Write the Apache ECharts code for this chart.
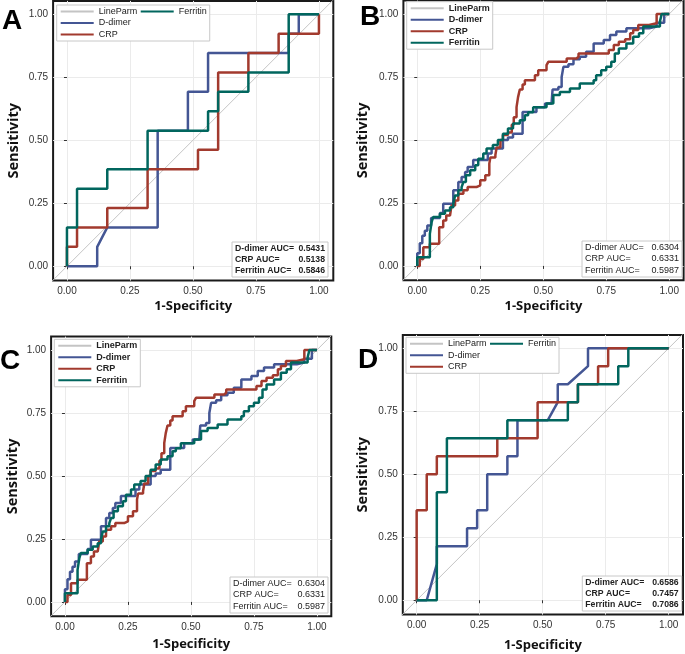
<!DOCTYPE html>
<html><head><meta charset="utf-8">
<script src="https://cdn.jsdelivr.net/npm/echarts@6/dist/echarts.min.js"></script>
<style>html,body{margin:0;padding:0;background:#fff}#c{width:685px;height:654px}</style>
</head><body><div id="c"></div><script>
// ---------- data ----------
const tickValues = [0, 0.25, 0.5, 0.75, 1];
const legendNames = ['LineParm', 'D-dimer', 'CRP', 'Ferritin'];
const panelLetters = ['A', 'B', 'C', 'D'];
const aucLabels = ['D-dimer AUC=', 'CRP AUC=', 'Ferritin AUC='];
const aucA = ['0.5431', '0.5138', '0.5846'];
const aucB = ['0.6304', '0.6331', '0.5987'];
const aucC = ['0.6304', '0.6331', '0.5987'];
const aucD = ['0.6586', '0.7457', '0.7086'];
const lineParm = [[-0.2, -0.2], [1.2, 1.2]];

// Panel A (vertices of the ROC path)
const aDdimer = [[0,0],[0.12,0],[0.12,0.077],[0.16,0.154],[0.36,0.154],[0.36,0.538],[0.48,0.538],[0.48,0.692],[0.56,0.692],[0.56,0.846],[0.88,0.846],[0.88,0.923],[0.92,0.923],[0.92,1],[1,1]];
const aCrp = [[0,0],[0,0.077],[0.04,0.077],[0.04,0.154],[0.16,0.154],[0.16,0.231],[0.32,0.231],[0.32,0.385],[0.52,0.385],[0.52,0.462],[0.6,0.462],[0.6,0.769],[0.72,0.769],[0.72,0.846],[0.84,0.846],[0.84,0.923],[1,0.923],[1,1]];
const aFerritin = [[0,0],[0,0.154],[0.04,0.154],[0.04,0.308],[0.16,0.308],[0.16,0.385],[0.32,0.385],[0.32,0.538],[0.56,0.538],[0.56,0.615],[0.6,0.615],[0.6,0.692],[0.72,0.692],[0.72,0.769],[0.88,0.769],[0.88,1],[1,1]];

// Panels B and C (ROC points, drawn as steps)
const bDdimer = [[0,0],[0,0.05],[0.01,0.09],[0.02,0.12],[0.03,0.14],[0.04,0.16],[0.055,0.19],[0.09,0.21],[0.103,0.247],[0.143,0.3],[0.163,0.333],[0.176,0.353],[0.19,0.373],[0.2,0.393],[0.222,0.42],[0.28,0.446],[0.295,0.466],[0.34,0.5],[0.36,0.51],[0.38,0.525],[0.418,0.611],[0.473,0.63],[0.507,0.645],[0.533,0.65],[0.537,0.7],[0.56,0.71],[0.573,0.75],[0.58,0.79],[0.6,0.8],[0.62,0.82],[0.645,0.83],[0.67,0.85],[0.7,0.883],[0.74,0.897],[0.765,0.916],[0.79,0.93],[0.83,0.943],[0.92,0.95],[0.95,0.965],[0.98,1],[1,1]];
const bCrp = [[0,0],[0.01,0],[0.01,0.028],[0.024,0.074],[0.05,0.088],[0.087,0.154],[0.103,0.18],[0.115,0.2],[0.13,0.207],[0.136,0.24],[0.15,0.26],[0.163,0.286],[0.183,0.3],[0.2,0.313],[0.235,0.32],[0.25,0.34],[0.27,0.36],[0.286,0.406],[0.29,0.43],[0.31,0.44],[0.315,0.47],[0.33,0.5],[0.34,0.52],[0.36,0.53],[0.375,0.56],[0.383,0.59],[0.394,0.63],[0.4,0.67],[0.407,0.7],[0.418,0.72],[0.427,0.737],[0.467,0.757],[0.48,0.777],[0.513,0.797],[0.52,0.81],[0.593,0.823],[0.632,0.83],[0.64,0.843],[0.76,0.857],[0.78,0.877],[0.8,0.89],[0.825,0.9],[0.845,0.923],[0.857,0.936],[0.877,0.956],[0.92,0.963],[0.95,1],[1,1]];
const bFerritin = [[0,0],[0,0.034],[0.05,0.127],[0.057,0.174],[0.063,0.194],[0.09,0.207],[0.11,0.22],[0.13,0.233],[0.143,0.247],[0.15,0.28],[0.163,0.3],[0.176,0.313],[0.183,0.333],[0.193,0.36],[0.21,0.38],[0.23,0.4],[0.242,0.425],[0.262,0.446],[0.275,0.466],[0.3,0.48],[0.32,0.5],[0.34,0.525],[0.36,0.545],[0.38,0.565],[0.407,0.578],[0.427,0.598],[0.44,0.61],[0.46,0.63],[0.513,0.645],[0.54,0.678],[0.566,0.69],[0.606,0.704],[0.645,0.724],[0.7,0.737],[0.71,0.757],[0.73,0.777],[0.75,0.79],[0.77,0.81],[0.784,0.843],[0.8,0.863],[0.83,0.883],[0.857,0.91],[0.88,0.923],[0.897,0.95],[0.963,0.97],[0.97,1],[1,1]];

// Panel D (vertices of the ROC path)
const dDdimer = [[0,0],[0.04,0],[0.08,0.143],[0.08,0.214],[0.2,0.214],[0.2,0.286],[0.24,0.286],[0.24,0.357],[0.28,0.357],[0.28,0.5],[0.36,0.5],[0.36,0.571],[0.4,0.571],[0.4,0.714],[0.52,0.714],[0.56,0.786],[0.56,0.857],[0.6,0.857],[0.68,0.929],[0.68,1],[1,1]];
const dCrp = [[0,0],[0,0.357],[0.04,0.357],[0.04,0.5],[0.08,0.5],[0.08,0.571],[0.32,0.571],[0.32,0.643],[0.48,0.643],[0.48,0.786],[0.64,0.786],[0.64,0.857],[0.72,0.857],[0.72,0.929],[0.76,0.929],[0.76,1],[1,1]];
const dFerritin = [[0,0],[0.08,0],[0.08,0.429],[0.12,0.429],[0.12,0.643],[0.36,0.643],[0.36,0.714],[0.6,0.714],[0.6,0.786],[0.64,0.786],[0.64,0.857],[0.8,0.857],[0.8,0.929],[0.84,0.929],[0.84,1],[1,1]];

// ---------- layout / style ----------
const COLORS = {'LineParm':'#c4c4c4','D-dimer':'#445694','CRP':'#A23A2E','Ferritin':'#01665E'};
const FONT = '"Liberation Sans", Arial, sans-serif';
const W = 280.2, H = 279.7;
const panels = [
  {left:53.1, top:0.9, curves:[aDdimer,aCrp,aFerritin], step:false, auc:aucA, aucBold:true, legBold:false,
   leg:[56.7,5,36], aucBox:[232,242,96,35], xGap:19, yGap:32, letter:[12,21]},
  {left:403.4, top:0.6, curves:[bDdimer,bCrp,bFerritin], step:'end', auc:aucB, aucBold:false, legBold:true,
   leg:[406.7,1.7,80], aucBox:[582,241,100,36], xGap:19, yGap:33, letter:[370,17]},
  {left:51.1, top:336.6, curves:[bDdimer,bCrp,bFerritin], step:'end', auc:aucC, aucBold:false, legBold:true,
   leg:[54.3,339.3,80], aucBox:[230,577,98,36], xGap:21, yGap:31, letter:[10,361]},
  {left:402.8, top:334.9, curves:[dDdimer,dCrp,dFerritin], step:false, auc:aucD, aucBold:true, legBold:false,
   leg:[406,337.3,36], aucBox:[582.3,576,99.4,35], xGap:24, yGap:32, letter:[368,360]}
];

const grid = [], xAxis = [], yAxis = [], series = [], legend = [], graphic = [];
panels.forEach((p, i) => {
  grid.push({left:p.left, top:p.top, width:W, height:H, show:true, borderColor:'#1a1a1a', borderWidth:2, backgroundColor:'#fff'});
  const common = {
    gridIndex:i, type:'value', min:-0.055, max:1.057,
    axisLine:{show:false},
    axisTick:{show:true, customValues:tickValues, length:3, lineStyle:{color:'#333'}},
    axisLabel:{customValues:tickValues, formatter:v => v.toFixed(2), fontSize:10, color:'#333', fontFamily:FONT},
    splitLine:{show:true, lineStyle:{color:'#ebebeb', width:1}},
    nameLocation:'middle',
    nameTextStyle:{fontFamily:'"Open Sans", sans-serif', fontWeight:'bold', color:'#111'}
  };
  xAxis.push(Object.assign({}, common, {
    name:'1-Specificity', nameGap:p.xGap,
    axisLabel:Object.assign({}, common.axisLabel, {margin:6}),
    nameTextStyle:Object.assign({}, common.nameTextStyle, {fontSize:13})
  }));
  yAxis.push(Object.assign({}, common, {
    min:-0.057, max:1.053,
    name:'Sensitivity', nameGap:p.yGap,
    axisLabel:Object.assign({}, common.axisLabel, {margin:5}),
    nameTextStyle:Object.assign({}, common.nameTextStyle, {fontSize:14.5})
  }));
  series.push({name:'LineParm', type:'line', xAxisIndex:i, yAxisIndex:i, data:lineParm, symbol:'none', clip:true,
    lineStyle:{color:COLORS.LineParm, width:1}, itemStyle:{color:COLORS.LineParm}, z:2, silent:true});
  ['D-dimer','CRP','Ferritin'].forEach((n, k) => {
    series.push({name:n, type:'line', xAxisIndex:i, yAxisIndex:i, data:p.curves[k], symbol:'none', step:p.step,
      lineStyle:{color:COLORS[n], width:2.5}, itemStyle:{color:COLORS[n]}, z:3+k, silent:true});
  });
  legend.push({
    left:p.leg[0], top:p.leg[1], height:p.leg[2], orient:'vertical',
    itemWidth:33, itemHeight:9, itemGap:2.5, padding:[2,3,2,3],
    backgroundColor:'#fff', borderColor:'#c8c8c8', borderWidth:1,
    selectedMode:false, data:legendNames,
    itemStyle:{opacity:0},
    textStyle:{fontSize:9, fontFamily:FONT, color:'#222', fontWeight:p.legBold ? 'bold' : 'normal'}
  });
  const [bx, by, bw, bh] = p.aucBox;
  const fs = p.aucBold ? 8.7 : 9;
  graphic.push({type:'rect', shape:{x:bx, y:by, width:bw, height:bh},
    style:{fill:'#fff', stroke:'#c8c8c8', lineWidth:1}, z:100});
  aucLabels.forEach((lab, k) => {
    const cy = by + 6.5 + k * 11.3;
    graphic.push({type:'text', x:bx + 3, y:cy, z:101,
      style:{text:lab, fontSize:fs, fontFamily:FONT, fontWeight:p.aucBold ? 'bold' : 'normal', fill:'#222',
             align:'left', verticalAlign:'middle', textAlign:'left', textVerticalAlign:'middle'}});
    graphic.push({type:'text', x:bx + bw - 3, y:cy, z:101,
      style:{text:p.auc[k], fontSize:fs, fontFamily:FONT, fontWeight:p.aucBold ? 'bold' : 'normal', fill:'#222',
             align:'right', verticalAlign:'middle', textAlign:'right', textVerticalAlign:'middle'}});
  });
  graphic.push({type:'text', x:p.letter[0], y:p.letter[1], z:101,
    style:{text:panelLetters[i], fontSize:28, fontFamily:FONT, fontWeight:'bold', fill:'#000',
           align:'center', verticalAlign:'middle', textAlign:'center', textVerticalAlign:'middle'}});
});

const chart = echarts.init(document.getElementById('c'), null, {renderer:'canvas'});
chart.setOption({animation:false, backgroundColor:'#fff', grid, xAxis, yAxis, series, legend, graphic});
</script></body></html>
